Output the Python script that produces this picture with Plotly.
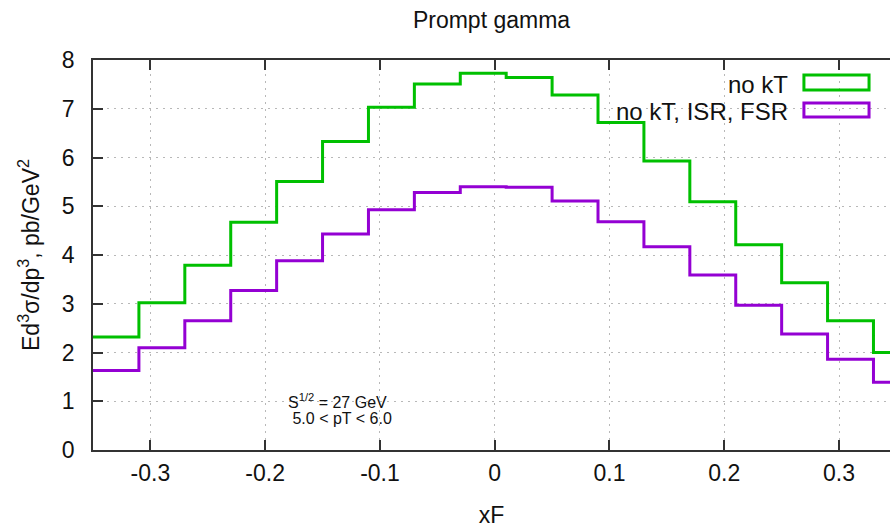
import plotly.graph_objects as go

# Bin centres in xF (bins are 0.04 wide)
xf_centers = [-0.33, -0.29, -0.25, -0.21, -0.17, -0.13, -0.09, -0.05, -0.01,
              0.03, 0.07, 0.11, 0.15, 0.19, 0.23, 0.27, 0.31, 0.35]
bin_width = 0.04

# Invariant cross section, pb/GeV^2
no_kt = [2.32, 3.02, 3.79, 4.67, 5.51, 6.33, 7.03, 7.51, 7.73,
         7.64, 7.28, 6.72, 5.93, 5.09, 4.21, 3.43, 2.65, 2.00]
no_kt_isr_fsr = [1.63, 2.10, 2.65, 3.27, 3.88, 4.43, 4.93, 5.28, 5.40,
                 5.39, 5.11, 4.68, 4.17, 3.59, 2.97, 2.38, 1.86, 1.39]

series_names = ["no kT", "no kT, ISR, FSR"]
series_colors = ["#00c000", "#9400d3"]

x_tick_vals = [-0.3, -0.2, -0.1, 0, 0.1, 0.2, 0.3]
x_tick_text = ["-0.3", "-0.2", "-0.1", "0", "0.1", "0.2", "0.3"]
y_tick_vals = [0, 1, 2, 3, 4, 5, 6, 7, 8]

FONT = "Liberation Sans, Arial, sans-serif"
TEXT_COLOR = "#111111"
AXIS_COLOR = "#333333"
GRID_COLOR = "#b8b8b8"
GRID_DASH = "2px,5px"


def step_xy(centers, values):
    """Histogram outline: left bin edges plus the final right edge."""
    xs = [c - bin_width / 2 for c in centers] + [centers[-1] + bin_width / 2]
    ys = list(values) + [values[-1]]
    return xs, ys


fig = go.Figure()
for name, vals, col in zip(series_names, [no_kt, no_kt_isr_fsr], series_colors):
    xs, ys = step_xy(xf_centers, vals)
    fig.add_trace(go.Scatter(x=xs, y=ys, mode="lines", name=name,
                             line=dict(color=col, width=3, shape="hv"),
                             showlegend=False))

# Key in gnuplot style: right-aligned text followed by an outlined box
key_rows = [(0.936, 0.9615, 0.923), (0.867, 0.8897, 0.8538)]
shapes = []
annotations = []
for (ty, y_top, y_bot), name, col in zip(key_rows, series_names, series_colors):
    annotations.append(dict(x=0.8745, y=ty, xref="paper", yref="paper",
                            text=name, showarrow=False, xanchor="right",
                            yanchor="middle",
                            font=dict(family=FONT, size=24, color=TEXT_COLOR)))
    shapes.append(dict(type="rect", xref="paper", yref="paper",
                       x0=0.892, x1=0.9737, y0=y_bot, y1=y_top,
                       line=dict(color=col, width=3), fillcolor="rgba(0,0,0,0)"))

# Kinematic labels
annotations.append(dict(x=-0.182, y=1.0, xref="x", yref="y",
                        text="S<sup>1/2</sup> = 27 GeV", showarrow=False,
                        xanchor="left", yanchor="middle",
                        font=dict(family=FONT, size=16, color=TEXT_COLOR)))
annotations.append(dict(x=-0.182, y=0.64, xref="x", yref="y",
                        text=" 5.0 < pT < 6.0", showarrow=False,
                        xanchor="left", yanchor="middle",
                        font=dict(family=FONT, size=16, color=TEXT_COLOR)))

fig.update_layout(
    width=890, height=528,
    margin=dict(l=93, r=0, t=60, b=78),
    paper_bgcolor="white", plot_bgcolor="white",
    font=dict(family=FONT, size=23, color=TEXT_COLOR),
    title=dict(text="Prompt gamma", x=0.5, xref="paper", xanchor="center",
               y=0.962, yref="container", yanchor="middle",
               font=dict(family=FONT, size=23, color=TEXT_COLOR)),
    xaxis=dict(range=[-0.35, 0.3444], tickvals=x_tick_vals, ticktext=x_tick_text,
               showline=True, linecolor=AXIS_COLOR, linewidth=1.5, mirror="ticks",
               ticks="inside", ticklen=10, tickcolor=AXIS_COLOR, tickwidth=1.5,
               showgrid=True, gridcolor=GRID_COLOR, griddash=GRID_DASH, gridwidth=1,
               zeroline=False, ticklabelstandoff=2,
               tickfont=dict(family=FONT, size=23, color=TEXT_COLOR),
               title=dict(text="xF", standoff=22,
                          font=dict(family=FONT, size=23, color=TEXT_COLOR))),
    yaxis=dict(range=[0, 8], tickvals=y_tick_vals,
               showline=True, linecolor=AXIS_COLOR, linewidth=1.5,
               ticks="inside", ticklen=10, tickcolor=AXIS_COLOR, tickwidth=1.5,
               showgrid=True, gridcolor=GRID_COLOR, griddash=GRID_DASH, gridwidth=1,
               zeroline=False, ticklabelstandoff=12,
               tickfont=dict(family=FONT, size=23, color=TEXT_COLOR),
               title=dict(text="Ed<sup>3</sup>σ/dp<sup>3</sup>, pb/GeV<sup>2</sup>",
                          standoff=16,
                          font=dict(family=FONT, size=23, color=TEXT_COLOR))),
    yaxis2=dict(range=[0, 8], tickvals=y_tick_vals, overlaying="y", side="right",
                showticklabels=False, showgrid=False, showline=False,
                zeroline=False, ticks="inside", ticklen=4,
                tickcolor=AXIS_COLOR, tickwidth=1.5),
    shapes=shapes,
    annotations=annotations,
)

fig.write_html("out.html")
